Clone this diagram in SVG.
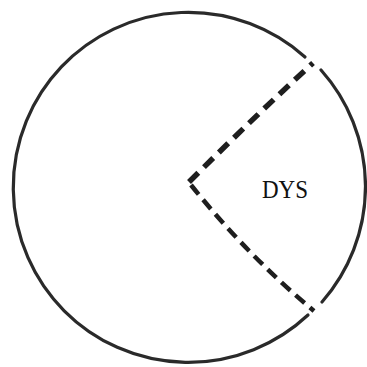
<svg xmlns="http://www.w3.org/2000/svg" width="367" height="367" viewBox="0 0 367 367">
<style>
.arc{fill:none;stroke:#2a2a2a;stroke-width:3.2;stroke-linecap:round}
.dash{fill:none;stroke:#1e1e1e;stroke-width:5.5;stroke-dasharray:13 8;stroke-linejoin:round}
.lbl{font-family:"Liberation Serif",serif;font-size:25px;fill:#111}
</style>
<rect width="367" height="367" fill="#fff"/>
<g id="circle">
<path class="arc" d="M 321 70 A 175 175 0 0 1 322 302"/>
<path class="arc" d="M 308 315 A 175 175 0 1 1 305 57"/>
</g>
<g id="connectors">
<path class="dash" d="M 189 182 Q 253 118 313 63"/>
<path class="dash" d="M 191 185 Q 248 256 314 311" style="stroke-width:4.5;stroke-dasharray:12 7"/>
</g>
<g id="label">
<text class="lbl" x="262" y="198" textLength="46" lengthAdjust="spacingAndGlyphs">DYS</text>
</g>
</svg>
